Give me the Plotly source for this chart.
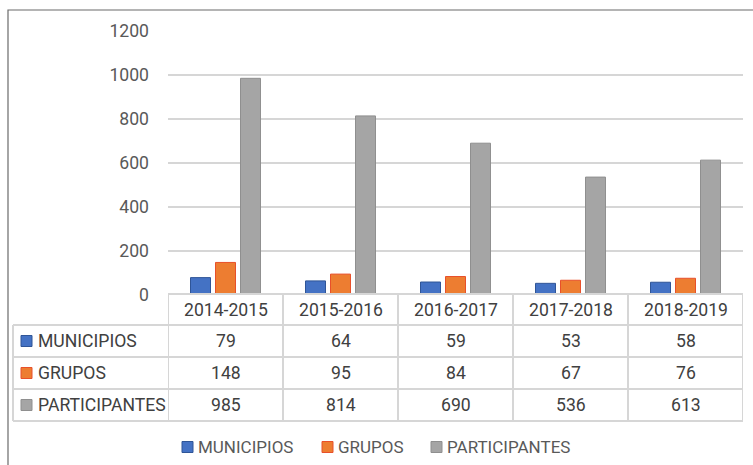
import plotly.graph_objects as go

categories = ["2014-2015", "2015-2016", "2016-2017", "2017-2018", "2018-2019"]
municipios = [79, 64, 59, 53, 58]
grupos = [148, 95, 84, 67, 76]
participantes = [985, 814, 690, 536, 613]
series_names = ["MUNICIPIOS", "GRUPOS", "PARTICIPANTES"]
y_ticks = [0, 200, 400, 600, 800, 1000, 1200]

colors = ["#4472C4", "#ED7D31", "#A5A5A5"]
outlines = ["#2F5597", "#E8502A", "#8F8F8F"]

W, H = 753, 465
ML, MR, MT, MB = 168, 10, 31, 170
PW, PH = W - ML - MR, H - MT - MB

def px_x(px):
    return (px - ML) / PW

def px_y(py):
    return (H - MB - py) / PH

FONT = "Roboto"
FS = 17.6
TXT = "#404040"
LEG = "#595959"

fig = go.Figure()
series = [municipios, grupos, participantes]
for name, vals, c, oc in zip(series_names, series, colors, outlines):
    fig.add_trace(go.Bar(x=categories, y=vals, name=name,
                         marker=dict(color=c, line=dict(color=oc, width=1))))

shapes = []
annotations = []
grid_c = "#D6D6D6"
# outer chart border
shapes.append(dict(type="rect", xref="paper", yref="paper",
                   x0=px_x(8), x1=px_x(800), y0=px_y(10), y1=px_y(520),
                   line=dict(color="#6b6b6b", width=1.2), fillcolor="rgba(0,0,0,0)", layer="below"))

row_tops = [325, 357, 389, 421]
# horizontal table lines
shapes.append(dict(type="line", xref="paper", yref="paper", x0=0, x1=1,
                   y0=px_y(294), y1=px_y(294), line=dict(color=grid_c, width=2)))
for ry in row_tops:
    shapes.append(dict(type="line", xref="paper", yref="paper", x0=px_x(13), x1=1,
                       y0=px_y(ry), y1=px_y(ry), line=dict(color=grid_c, width=2)))
# vertical lines
shapes.append(dict(type="line", xref="paper", yref="paper", x0=px_x(13), x1=px_x(13),
                   y0=px_y(325), y1=px_y(421), line=dict(color=grid_c, width=2)))
for i in range(len(categories) + 1):
    shapes.append(dict(type="line", xref="x", yref="paper", x0=i - 0.5, x1=i - 0.5,
                       y0=px_y(294), y1=px_y(421), line=dict(color=grid_c, width=2)))

# header
for i, cat in enumerate(categories):
    annotations.append(dict(x=cat, xref="x", y=px_y(310), yref="paper", text=cat,
                            showarrow=False, font=dict(family=FONT, size=FS, color=TXT),
                            xanchor="center", yanchor="middle"))
row_centers = [341, 373, 405]
for r, (name, vals) in enumerate(zip(series_names, series)):
    cy = row_centers[r]
    shapes.append(dict(type="rect", xref="paper", yref="paper",
                       x0=px_x(21), x1=px_x(32), y0=px_y(cy - 5.5), y1=px_y(cy + 5.5),
                       fillcolor=colors[r], line=dict(color=outlines[r], width=1)))
    annotations.append(dict(x=px_x(36), xref="paper", y=px_y(cy), yref="paper", text=name,
                            showarrow=False, font=dict(family=FONT, size=FS, color=TXT),
                            xanchor="left", yanchor="middle"))
    for cat, v in zip(categories, vals):
        annotations.append(dict(x=cat, xref="x", y=px_y(cy), yref="paper", text=str(v),
                                showarrow=False, font=dict(family=FONT, size=FS, color=TXT),
                                xanchor="center", yanchor="middle"))

# legend (drawn as key squares + labels)
leg_x = [182, 322, 431]
leg_cy = 447
for r, name in enumerate(series_names):
    x0 = leg_x[r]
    shapes.append(dict(type="rect", xref="paper", yref="paper",
                       x0=px_x(x0), x1=px_x(x0 + 11), y0=px_y(leg_cy - 5.5), y1=px_y(leg_cy + 5.5),
                       fillcolor=colors[r], line=dict(color=outlines[r], width=1)))
    annotations.append(dict(x=px_x(x0 + 14), xref="paper", y=px_y(leg_cy), yref="paper", text=name,
                            showarrow=False, font=dict(family=FONT, size=FS - 0.6, color=LEG),
                            xanchor="left", yanchor="middle"))

fig.update_layout(
    width=W, height=H,
    margin=dict(l=ML, r=MR, t=MT, b=MB, pad=0, autoexpand=False),
    paper_bgcolor="white", plot_bgcolor="white",
    barmode="group", bargap=0.348, bargroupgap=0.2,
    font=dict(family=FONT, size=FS, color=LEG),
    shapes=shapes, annotations=annotations,
    showlegend=False,
    xaxis=dict(range=[-0.5, len(categories) - 0.5], showticklabels=False, showgrid=False,
               zeroline=False, showline=False, ticks=""),
    yaxis=dict(range=[0, 1200], tickvals=y_ticks, showgrid=True, gridcolor=grid_c, gridwidth=2,
               zeroline=False, showline=False, ticks="", ticklabelstandoff=18,
               tickfont=dict(family=FONT, size=FS, color=LEG)),
)

fig.write_html("out.html", config={"displayModeBar": False},
               post_script="document.body.style.margin='0';")
